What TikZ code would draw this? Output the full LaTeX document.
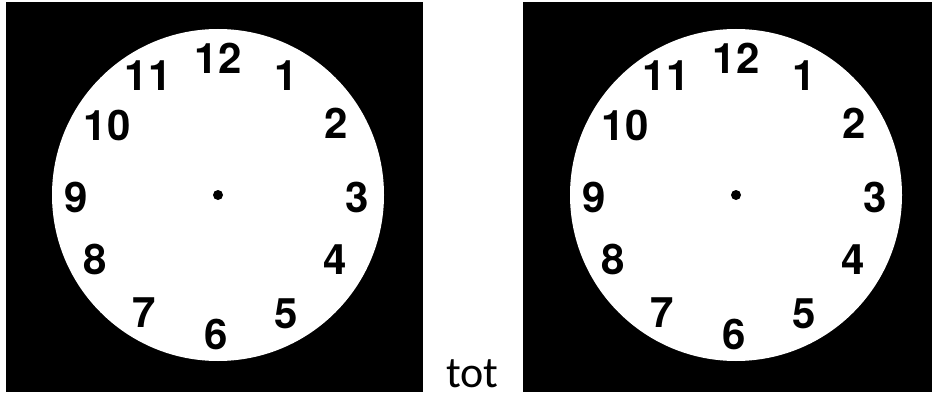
\documentclass[tikz,border=0pt]{standalone}
\usepackage{fontspec}
\setmainfont{Carlito}
\newfontfamily\clockfont{TeX Gyre Heros}
\usetikzlibrary{positioning}

\begin{document}
\begin{tikzpicture}[
      x=1pt, y=-1pt,
      face/.style={fill=black},
      dial/.style={fill=white},
      hour/.style={font=\clockfont\bfseries\fontsize{42}{42}\selectfont, inner sep=0pt},
      word/.style={font=\fontsize{44}{44}\selectfont, inner sep=0pt, anchor=base}
    ]
    \useasboundingbox (0,0) rectangle (932,396);
    \fill[face] (6,2) rectangle (423,392);
    \fill[face] (523,2) rectangle (932,392);
    \foreach \c/\cx in {l/218, r/736}{
      \coordinate (\c c) at (\cx,195);
      \fill[dial] (\c c) circle[radius=166];
      \fill (\c c) circle[radius=5];
      \foreach \h/\dx/\dy in {12/0/-137, 1/68/-119, 2/118/-72, 3/139.5/2, 4/117/65, 5/68/119,
                              6/-2/139, 7/-73.5/118, 8/-123/64.5, 9/-141.5/2, 10/-111/-70, 11/-70/-119}
        \node[hour] (\c\h) at ([shift={(\dx,\dy)}]\c c) {\h};
    }
    \node[word] (tot) at (472.5,387) {tot};
  \end{tikzpicture}
\end{document}
